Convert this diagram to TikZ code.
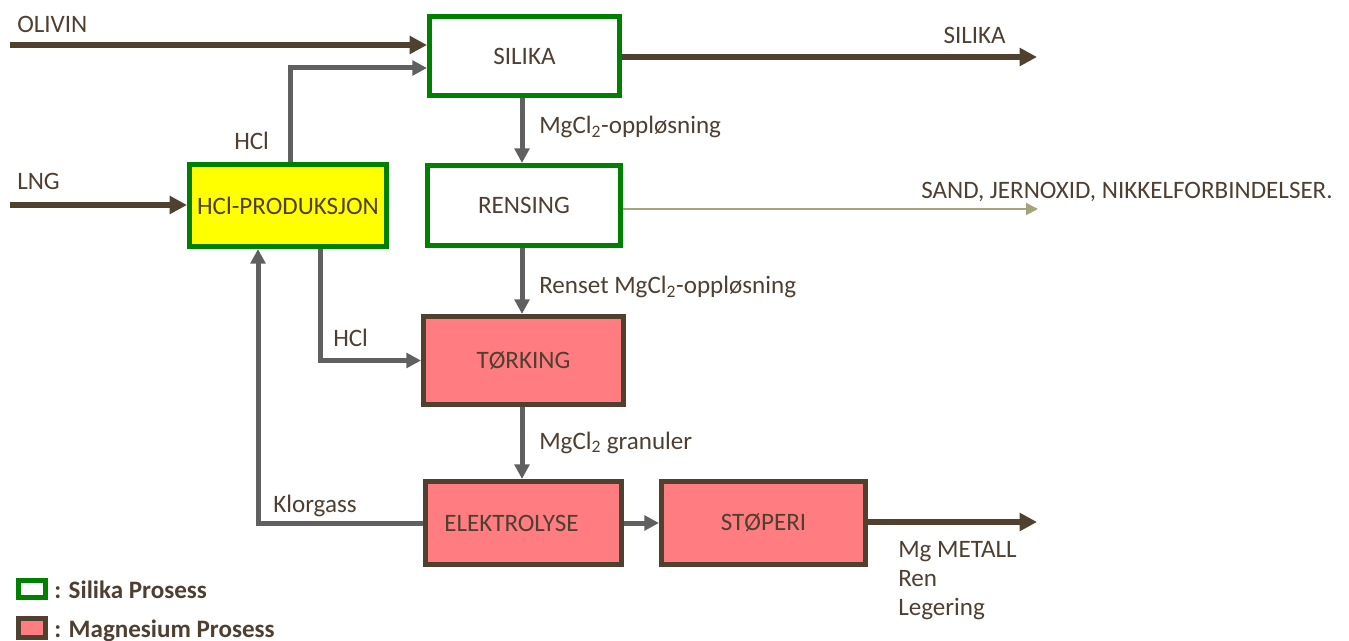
\documentclass[tikz,border=0pt]{standalone}
\usepackage{fontspec}
\setmainfont{Carlito}
\usetikzlibrary{arrows.meta}
\definecolor{brn}{HTML}{504030}
\definecolor{txt}{HTML}{4F3F31}
\definecolor{gry}{HTML}{606060}
\definecolor{grn}{HTML}{008000}
\definecolor{pnk}{HTML}{FF7C80}
\definecolor{ylw}{HTML}{FFFF00}
\definecolor{olv}{HTML}{A3A47A}
\tikzset{
  px/.style={x=0.75pt,y=-0.75pt},
  box/.style n args={2}{draw, line width=3.75pt, minimum width={#1*0.75pt}, minimum height={#2*0.75pt}, inner sep=0pt, text=txt},
  sbox/.style={draw=grn, fill=white},
  hbox/.style={draw=grn, fill=ylw},
  mbox/.style={draw=brn, fill=pnk},
  lbl/.style={text=txt, inner sep=0pt, anchor=base west},
  barrow/.style={draw=brn, line width=4.5pt, -{Triangle[length=13pt,width=13pt]}},
  garrow/.style={draw=gry, line width=3.75pt, -{Triangle[length=11pt,width=11pt]}},
  gline/.style={draw=gry, line width=3.75pt},
  oarrow/.style={draw=olv, line width=1.5pt, -{Triangle[length=9pt,width=9pt]}},
}
\begin{document}
\begin{tikzpicture}[px, font=\fontsize{18.8}{22}\selectfont]
\useasboundingbox (0,0) rectangle (1349,641);
% boxes
\node[box={190}{79}, sbox] (silika) at (524.5,56) {SILIKA};
\node[box={193}{80}, sbox] (rensing) at (524,205.5) {RENSING};
\node[box={197}{82}, hbox] (hcl) at (288,205.5) {HCl-PRODUKSJON};
\node[box={200}{88}, mbox] (tork) at (523.5,360.5) {TØRKING};
\node[box={196}{83}, mbox] (elek) at (523.5,523) {\hspace*{-18pt}ELEKTROLYSE};
\node[box={204}{83}, mbox] (stop) at (763.5,523) {STØPERI};
% helper coordinates
\coordinate (ostart) at (10,45);
\coordinate (lstart) at (10,205);
\coordinate (hup) at (68,68);
\coordinate (hx1) at (290,0);
\coordinate (hx2) at (320,0);
\coordinate (kx) at (258,0);
\coordinate (vx) at (522,0);
\coordinate (send) at (1037,57);
\coordinate (rend) at (1038,209);
\coordinate (mend) at (1037,522);
% connectors
\draw[barrow] (ostart) -- (silika.west |- ostart);
\draw[barrow] (lstart) -- (hcl.west |- lstart);
\draw[barrow] (silika.east |- send) -- (send);
\draw[garrow] (hcl.north -| hx1) |- (silika.west |- hup);
\draw[garrow] (silika.south -| vx) -- (rensing.north -| vx);
\draw[oarrow] (rensing.east |- rend) -- (rend);
\draw[garrow] (rensing.south -| vx) -- (tork.north -| vx);
\draw[garrow] (hcl.south -| hx2) |- (tork.west);
\draw[garrow] (tork.south -| vx) -- (elek.north -| vx);
\draw[garrow] (elek.west) -| (hcl.south -| kx);
\draw[garrow] (elek.east) -- (stop.west);
\draw[barrow] (stop.east |- mend) -- (mend);
% labels
\node[lbl] (tolivin) at (17,33) {OLIVIN};
\node[lbl] (tlng) at (17,190) {LNG};
\node[lbl] (thcl1) at (234,150) {HCl};
\node[lbl, anchor=base east] (tsil) at (1006,44) {SILIKA};
\node[lbl] (tmg1) at (539,134) {MgCl\textsubscript{2}-oppløsning};
\node[lbl] (tsand) at (921,199) {SAND, JERNOXID, NIKKELFORBINDELSER.};
\node[lbl] (tmg2) at (539,294) {Renset MgCl\textsubscript{2}-oppløsning};
\node[lbl] (thcl2) at (333,347) {HCl};
\node[lbl] (tmg3) at (539,449) {MgCl\textsubscript{2} granuler};
\node[lbl] (tklor) at (273,512) {Klorgass};
\node[lbl] (tmetal) at (898,557) {\begin{tabular}[t]{@{}l@{}}Mg METALL\\ Ren\\ Legering\end{tabular}};
% legend
\node[draw=grn, fill=white, line width=3.5pt, minimum width={27*0.75pt}, minimum height={17*0.75pt}, inner sep=0pt] (leg1) at (32,589) {};
\node[draw=brn, fill=pnk, line width=3.5pt, minimum width={27*0.75pt}, minimum height={19*0.75pt}, inner sep=0pt] (leg2) at (32,628) {};
\node[lbl, font=\fontsize{18.8}{22}\selectfont\bfseries] (tleg1) at (54,598) {: Silika Prosess};
\node[lbl, font=\fontsize{18.8}{22}\selectfont\bfseries] (tleg2) at (54,637) {: Magnesium Prosess};
\end{tikzpicture}
\end{document}
